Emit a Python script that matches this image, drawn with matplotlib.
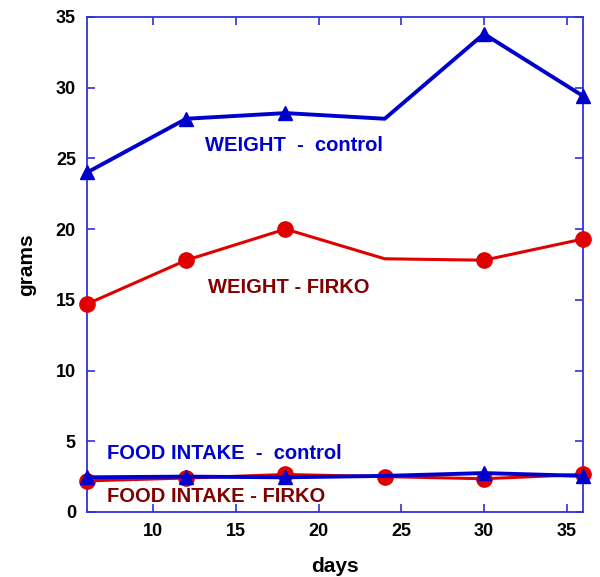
import numpy as np
import matplotlib.pyplot as plt

days = [6, 12, 18, 24, 30, 36]
weight_control = [24.0, 27.8, 28.2, 27.8, 33.8, 29.4]
weight_firko = [14.7, 17.8, 20.0, 17.9, 17.8, 19.3]
food_control = [2.45, 2.5, 2.45, 2.55, 2.75, 2.55]
food_firko = [2.2, 2.4, 2.65, 2.5, 2.35, 2.65]

blue = '#0000cc'
red = '#e00000'
darkred = '#800000'
axis_blue = '#3030dd'

plt.rcParams['font.family'] = ['Liberation Sans', 'DejaVu Sans']
plt.rcParams['font.weight'] = 'bold'

fig = plt.figure(figsize=(6, 5.77), dpi=100)
ax = fig.add_axes([0.145, 0.1127, 0.827, 0.858])

# FIRKO first so control sits on top
ax.plot(days, weight_firko, color=red, lw=2.2, marker='o', ms=11,
        markevery=[0, 1, 2, 4, 5], zorder=3, clip_on=False)
ax.plot(days, food_firko, color=red, lw=2.2, marker='o', ms=11, zorder=3,
        clip_on=False)
ax.plot(days, weight_control, color=blue, lw=2.8, marker='^', ms=10,
        markevery=[0, 1, 2, 4, 5], zorder=4, clip_on=False)
ax.plot(days, food_control, color=blue, lw=2.8, marker='^', ms=10,
        markevery=[0, 1, 2, 4, 5], zorder=4, clip_on=False)

fs = 14.5
ax.text(18.5, 25.9, 'WEIGHT  -  control', color=blue, fontsize=fs,
        fontweight='bold', ha='center', va='center')
ax.text(18.2, 15.9, 'WEIGHT - FIRKO', color=darkred, fontsize=fs,
        fontweight='bold', ha='center', va='center')
ax.text(7.2, 4.1, 'FOOD INTAKE  -  control', color=blue, fontsize=fs,
        fontweight='bold', ha='left', va='center')
ax.text(7.2, 1.1, 'FOOD INTAKE - FIRKO', color=darkred, fontsize=fs,
        fontweight='bold', ha='left', va='center')

ax.set_xlim(6, 36)
ax.set_ylim(0, 35)
ax.set_xticks([10, 15, 20, 25, 30, 35])
ax.set_yticks(np.arange(0, 36, 5))
ax.tick_params(direction='in', top=True, right=True, length=6, width=1.2,
               color=axis_blue, labelsize=13, pad=8)
for lab in ax.get_xticklabels() + ax.get_yticklabels():
    lab.set_fontweight('bold')
for sp in ax.spines.values():
    sp.set_color(axis_blue)
    sp.set_linewidth(1.3)

ax.set_xlabel('days', fontsize=15, fontweight='bold', labelpad=12)
ax.set_ylabel('grams', fontsize=15, fontweight='bold', labelpad=14)

fig.savefig('out.png', dpi=100)
